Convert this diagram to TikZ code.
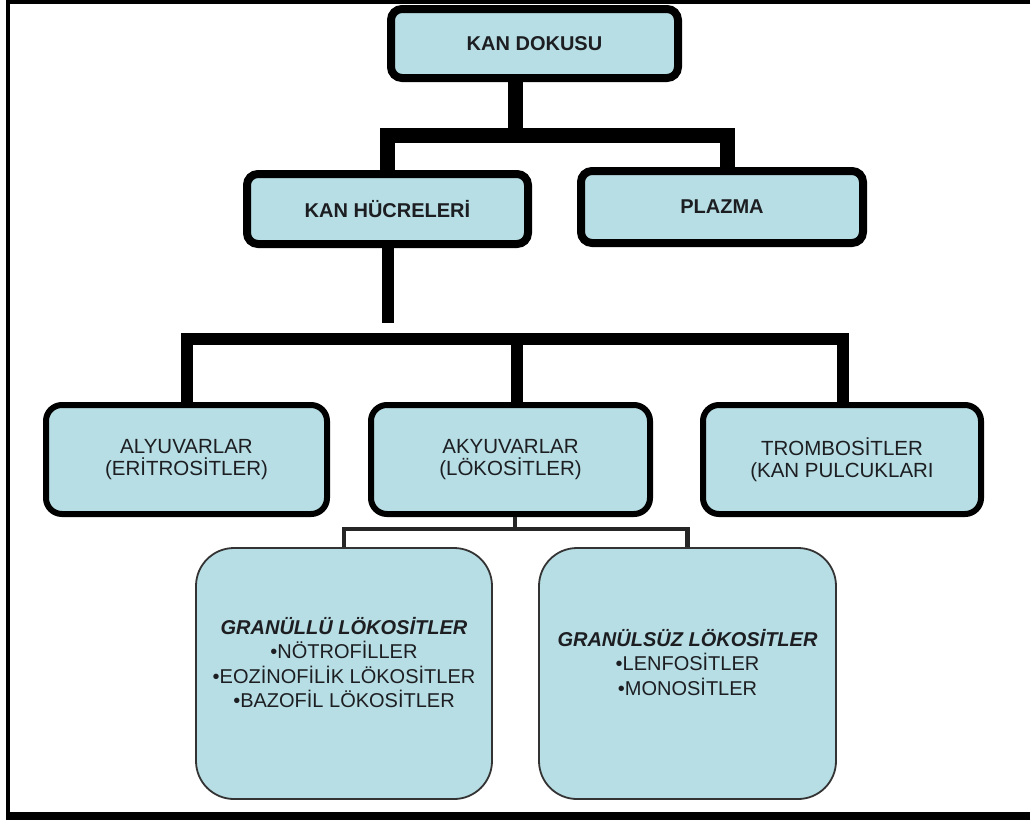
\documentclass[tikz,border=0pt]{standalone}
\usepackage{fontspec}
\setmainfont{Liberation Sans}
\usepackage{xcolor}
\definecolor{boxblue}{RGB}{183,222,228}
\definecolor{ink}{RGB}{28,30,34}

\begin{document}
\begin{tikzpicture}[x=1pt, y=-1pt,
    topbox/.style={draw=black, line width=8pt, fill=boxblue, rounded corners=11pt,
      inner sep=0pt, text=ink, font=\bfseries\fontsize{20}{22}\selectfont},
    midbox/.style={draw=black, line width=6pt, fill=boxblue, rounded corners=16pt,
      inner sep=0pt, text=ink, align=center, font=\fontsize{20.5}{22}\selectfont},
    lowbox/.style={draw=black!80, line width=1.8pt, fill=boxblue, rounded corners=38pt,
      inner sep=0pt},
    lowtext/.style={inner sep=0pt, text=ink, align=center, font=\fontsize{20}{24.5}\selectfont},
    toplink/.style={line width=15pt, line join=miter},
    midlink/.style={line width=12pt, line join=miter},
    lowlink/.style={line width=4.5pt, line join=miter, draw=black!85},
  ]
  \useasboundingbox (0,0) rectangle (1030,820);
  % outer frame
  \draw[line width=4pt] (1034,1.5) -- (8,1.5) -- (8,816) -- (1034,816);
  \draw[line width=8pt] (6,816) -- (1030,816);

  % top level
  \node[topbox, minimum width=287, minimum height=69] (dokusu) at (534.5,43.5) {KAN DOKUSU};
  \node[topbox, minimum width=281, minimum height=70] (hucre) at (387.5,209) {KAN HÜCRELERİ};
  \node[topbox, minimum width=282, minimum height=72] (plazma) at (722,207) {PLAZMA};

  % blood cells
  \node[midbox, minimum width=281, minimum height=109] (alyu) at (186.5,459.5) {ALYUVARLAR\\(ERİTROSİTLER)};
  \node[midbox, minimum width=279, minimum height=109] (akyu) at (510.5,459.5) {AKYUVARLAR\\(LÖKOSİTLER)};
  \node[midbox, minimum width=278, minimum height=109] (tromb) at (842,459.5) {TROMBOSİTLER\\(KAN PULCUKLARI};

  % leukocyte groups
  \node[lowbox, minimum width=296, minimum height=251] (granullu) at (344,673.5) {};
  \node[lowbox, minimum width=297, minimum height=251] (granulsuz) at (687.5,673.5) {};
  \node[lowtext] (granullutext) at ([yshift=11pt]granullu.center)
    {\textbf{\textit{GRANÜLLÜ LÖKOSİTLER}}\\•NÖTROFİLLER\\•EOZİNOFİLİK LÖKOSİTLER\\•BAZOFİL LÖKOSİTLER};
  \node[lowtext] (granulsuztext) at ([yshift=11pt]granulsuz.center)
    {\textbf{\textit{GRANÜLSÜZ LÖKOSİTLER}}\\•LENFOSİTLER\\•MONOSİTLER};

  % connectors
  \coordinate (j1) at (515,135);
  \coordinate (j2) at (517,339);
  \coordinate (j3) at (515,529);
  \coordinate (hgap) at (387.5,323);
  \draw[toplink] (dokusu.south -| j1) -- (j1);
  \draw[toplink] (hucre.north) |- (j1) -| ([xshift=5pt]plazma.north);
  \draw[midlink] (hucre.south) -- (hgap);
  \draw[midlink] (akyu.north -| j2) -- (j2);
  \draw[midlink] (alyu.north) |- (j2) -| ([xshift=1pt]tromb.north);
  \draw[lowlink] (akyu.south -| j3) -- (j3);
  \draw[lowlink] (granullu.north) |- (j3) -| (granulsuz.north);
\end{tikzpicture}
\end{document}
